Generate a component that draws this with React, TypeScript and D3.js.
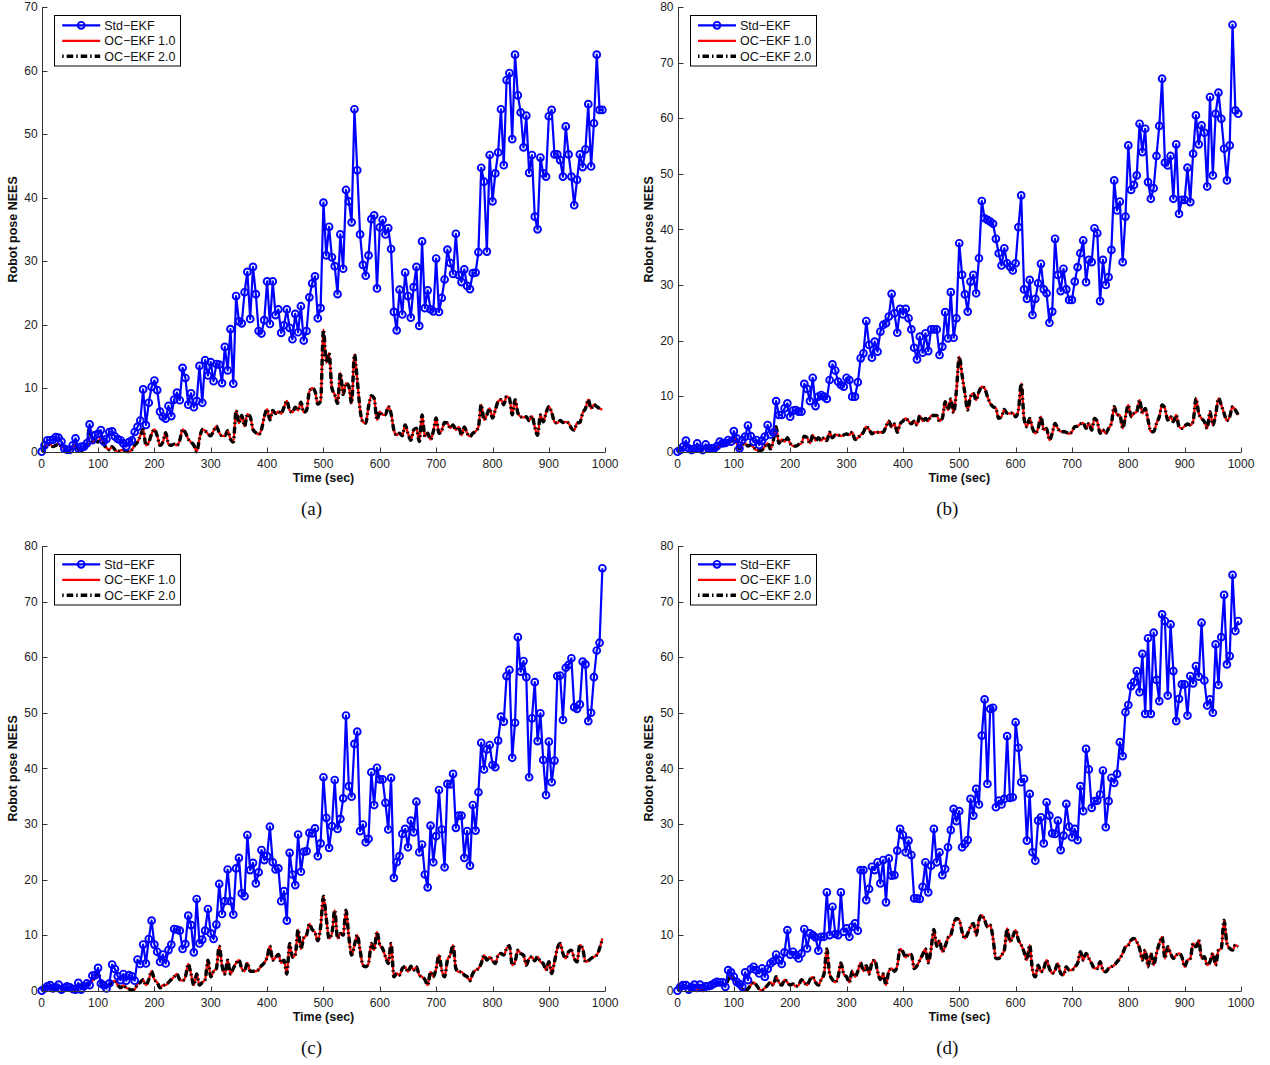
import * as d3 from "d3";

// sample spacing of every series (seconds)
const STEP = 5;
const X_TICKS = d3.range(0, 1001, 100);
const LABELS = ["Std\u2212EKF", "OC\u2212EKF 1.0", "OC\u2212EKF 2.0"];

// ---- (a) ----
const stdA = [
  0, 1.0, 1.8, 1.8, 1.9, 2.3, 2.2, 1.6, 0.5, 0.3, 0.3, 1.0, 2.1, 0.5, 0.8, 0.8, 1.3, 4.3, 1.8, 2.6,
  2.8, 3.4, 1.6, 2.0, 3.1, 3.2, 2.4, 2.0, 1.8, 1.3, 0.8, 1.5, 1.8, 3.1, 3.9, 4.9, 9.8, 4.2, 7.7, 10.2,
  11.2, 9.7, 6.3, 5.5, 5.2, 7.2, 5.6, 8.2, 9.3, 8.1, 13.2, 11.6, 7.4, 9.2, 7.0, 8.0, 13.5, 7.7, 14.4, 12.0,
  14.1, 11.1, 13.8, 13.7, 10.8, 16.5, 12.8, 19.3, 10.7, 24.5, 20.5, 20.2, 25.1, 28.3, 20.9, 29.1, 24.8, 19.0, 18.6, 20.7,
  26.8, 20.1, 26.8, 21.5, 22.4, 18.7, 19.9, 22.4, 19.5, 17.7, 21.7, 18.8, 22.9, 17.5, 19.0, 24.3, 26.5, 27.6, 21.0, 22.6,
  39.2, 30.9, 35.4, 30.6, 29.2, 24.8, 34.2, 28.8, 41.2, 39.4, 36.1, 53.9, 44.3, 34.2, 29.4, 27.7, 30.9, 36.6, 37.2, 25.7,
  35.3, 36.5, 34.2, 35.2, 31.9, 22.0, 19.1, 25.5, 21.6, 28.2, 24.5, 21.1, 25.9, 29.1, 19.8, 33.1, 22.6, 25.4, 22.4, 22.1,
  30.4, 22.0, 24.2, 27.1, 31.8, 29.7, 28.0, 34.3, 27.8, 26.7, 28.7, 26.1, 25.6, 28.1, 28.2, 31.4, 44.7, 42.5, 31.5, 46.7,
  39.4, 43.8, 47.1, 53.9, 45.1, 58.5, 59.6, 49.2, 62.5, 56.1, 53.4, 47.9, 52.9, 43.9, 46.7, 37.0, 35.0, 46.3, 43.8, 43.3,
  52.8, 53.8, 46.8, 46.8, 45.9, 43.3, 51.2, 46.8, 43.3, 38.8, 42.8, 46.8, 44.8, 47.6, 54.7, 44.9, 51.7, 62.5, 53.8, 53.8,
];
const ocA = [
  0, 0.5, 1.0, 1.2, 0.8, 1.0, 1.2, 0.8, 0.5, 0.2, 0.2, 0.6, 1.0, 0.4, 0.0, 0.5, 1.0, 4.0, 1.5, 1.8,
  1.5, 2.2, 1.2, 0.6, 0.3, 0.8, 0.3, 0.0, 0.2, 0.3, 0.1, 0.0, 0.3, 1.0, 1.5, 2.5, 3.5, 1.0, 1.5, 2.8,
  3.5, 2.5, 1.0, 1.5, 3.0, 1.2, 1.0, 1.2, 1.0, 1.8, 3.5, 3.0, 2.0, 1.5, 1.0, 0.0, 2.0, 3.5, 3.3, 2.8,
  2.5, 3.3, 4.0, 3.0, 2.5, 2.5, 3.3, 2.0, 1.5, 6.5, 4.5, 5.7, 4.0, 5.9, 5.5, 3.5, 3.0, 2.7, 3.5, 5.5,
  6.7, 5.0, 6.5, 6.0, 6.3, 6.0, 7.0, 8.0, 6.5, 6.2, 7.0, 6.5, 7.8, 6.2, 6.5, 9.5, 10.0, 9.5, 7.5, 8.0,
  19.2, 14.0, 15.5, 10.0, 9.0, 7.6, 12.4, 9.0, 10.8, 10.3, 7.6, 15.3, 11.3, 6.6, 4.7, 4.5, 7.1, 8.8, 8.4, 5.0,
  6.3, 5.8, 5.8, 7.1, 6.0, 3.4, 2.6, 2.9, 2.5, 4.2, 2.9, 1.8, 3.4, 3.7, 1.6, 5.8, 2.4, 2.9, 1.9, 3.2,
  5.3, 2.9, 3.4, 4.6, 4.5, 3.7, 4.2, 3.4, 3.9, 2.6, 3.9, 2.9, 2.4, 2.9, 3.2, 3.9, 7.4, 5.0, 5.8, 6.8,
  5.3, 6.6, 7.9, 8.2, 7.4, 8.7, 8.4, 5.8, 8.2, 6.1, 5.5, 5.4, 5.5, 4.9, 5.6, 3.9, 2.6, 5.8, 4.7, 6.1,
  7.1, 6.2, 4.7, 4.5, 4.9, 4.6, 4.7, 4.5, 3.7, 3.4, 4.5, 4.6, 6.1, 6.8, 8.2, 6.8, 7.4, 7.1, 6.8, 6.6,
];

// ---- (b) ----
const stdB = [
  0, 0.3, 0.9, 2.0, 0.6, 0.3, 0.5, 1.5, 0.5, 0.3, 1.3, 0.6, 0.6, 0.6, 1.0, 1.8, 1.5, 1.6, 2.1, 1.8,
  3.7, 2.4, 0.6, 2.1, 2.7, 4.7, 2.8, 1.8, 2.1, 1.2, 2.0, 2.7, 4.8, 3.1, 3.5, 9.1, 6.6, 6.6, 7.8, 8.7,
  6.3, 7.4, 7.5, 7.2, 7.2, 12.2, 11.3, 9.1, 13.3, 8.2, 9.9, 10.2, 9.9, 9.5, 12.9, 15.7, 14.6, 12.6, 12.0, 11.7,
  13.3, 12.9, 9.9, 9.9, 12.5, 16.8, 17.7, 23.5, 19.2, 16.9, 19.8, 18.0, 21.6, 22.8, 23.1, 24.3, 28.4, 24.9, 21.4, 25.7,
  24.7, 25.7, 24.0, 22.0, 18.7, 16.6, 20.7, 17.8, 21.3, 18.1, 22.0, 22.0, 22.0, 17.4, 18.9, 25.1, 20.4, 28.7, 20.5, 24.0,
  37.5, 31.8, 28.3, 25.2, 30.6, 31.8, 28.5, 34.8, 45.1, 42.0, 41.7, 41.4, 41.0, 38.3, 35.7, 33.5, 36.6, 33.9, 33.3, 32.6,
  33.9, 40.4, 46.1, 29.2, 27.5, 30.9, 24.6, 27.5, 30.3, 33.8, 29.2, 28.5, 23.2, 25.2, 38.3, 31.8, 28.9, 32.9, 29.2, 27.3,
  27.3, 30.6, 33.2, 35.7, 38.0, 30.5, 34.5, 34.1, 40.2, 39.3, 27.1, 34.5, 30.0, 31.4, 36.3, 48.8, 43.4, 45.0, 34.1, 42.3,
  55.1, 47.1, 48.0, 49.7, 59.0, 53.9, 58.1, 48.5, 45.5, 47.4, 53.2, 58.6, 67.1, 52.0, 51.5, 53.2, 45.5, 55.3, 42.8, 45.3,
  45.3, 51.1, 44.9, 53.6, 60.5, 55.3, 58.7, 57.4, 47.7, 63.8, 49.7, 60.8, 64.6, 59.9, 54.5, 48.8, 55.1, 76.8, 61.4, 60.8,
];
const ocB = [
  0, 0.3, 0.8, 1.5, 1.0, 0.7, 0.3, 1.0, 0.5, 0.3, 1.0, 0.5, 0.5, 0.3, 0.5, 1.2, 1.5, 1.2, 1.5, 1.8,
  2.5, 1.5, 0.5, 1.2, 1.5, 1.0, 1.2, 0.8, 0.3, 0.2, 0.3, 1.0, 1.5, 0.5, 2.0, 4.5, 1.5, 2.2, 1.8, 2.5,
  1.5, 1.0, 1.0, 1.3, 1.5, 2.8, 2.5, 1.5, 3.0, 2.0, 2.5, 2.0, 2.5, 2.0, 3.5, 2.5, 3.0, 3.0, 2.8, 3.0,
  3.2, 3.0, 3.5, 2.2, 2.5, 3.0, 3.5, 4.5, 4.0, 3.2, 3.5, 3.5, 3.5, 3.5, 4.5, 5.5, 4.5, 5.0, 3.5, 5.0,
  5.5, 6.0, 5.5, 5.0, 5.5, 4.8, 6.5, 5.5, 6.0, 5.5, 6.5, 6.5, 6.5, 5.5, 6.0, 9.0, 7.5, 9.5, 7.0, 11.0,
  17.1, 13.8, 10.5, 7.5, 9.9, 10.5, 9.3, 10.8, 11.7, 11.4, 9.9, 8.7, 8.1, 7.8, 6.0, 6.3, 7.6, 6.9, 6.9, 7.0,
  6.3, 7.5, 12.3, 6.0, 4.5, 6.0, 4.2, 3.3, 4.2, 6.3, 3.9, 4.2, 2.1, 3.3, 5.1, 4.2, 3.6, 3.6, 3.5, 3.2,
  3.6, 4.5, 4.6, 5.0, 5.2, 4.2, 5.1, 3.9, 6.0, 5.4, 3.3, 3.9, 3.3, 4.2, 5.1, 8.1, 6.6, 6.6, 4.2, 6.3,
  8.4, 6.3, 6.9, 7.2, 9.3, 6.9, 7.8, 5.7, 3.6, 3.6, 5.1, 6.3, 8.4, 7.8, 5.7, 6.3, 5.4, 6.6, 4.5, 4.2,
  4.6, 5.0, 4.8, 5.4, 9.6, 6.9, 6.0, 5.4, 4.2, 7.2, 4.8, 6.6, 9.6, 8.4, 6.9, 5.6, 6.3, 8.1, 7.5, 6.6,
];

// ---- (c) ----
const stdC = [
  0, 0.4, 0.8, 1.0, 0.4, 0.6, 1.1, 0.2, 0.5, 0.8, 0.6, 0.3, 0.2, 1.4, 0.2, 0.8, 1.3, 1.0, 2.7, 2.8,
  4.1, 1.3, 1.0, 0.4, 1.3, 4.7, 3.9, 2.6, 1.9, 3.0, 1.8, 2.8, 2.6, 1.8, 5.6, 4.8, 8.3, 4.9, 9.3, 12.6,
  8.3, 7.0, 5.2, 6.5, 4.9, 7.3, 8.3, 11.1, 11.0, 10.8, 7.5, 8.4, 13.5, 11.8, 6.9, 16.5, 8.5, 9.2, 10.8, 14.7,
  10.3, 9.3, 11.9, 19.2, 13.8, 16.1, 21.8, 16.1, 13.7, 22.0, 23.9, 17.5, 17.0, 28.0, 21.7, 23.0, 19.3, 21.3, 25.3, 23.5,
  24.2, 29.5, 23.1, 21.8, 22.0, 16.1, 17.9, 12.6, 24.8, 20.9, 19.0, 28.1, 21.4, 25.0, 25.1, 28.4, 28.3, 29.2, 24.2, 26.5,
  38.4, 31.1, 25.7, 29.6, 37.9, 29.1, 30.9, 34.6, 49.5, 36.8, 34.9, 44.4, 46.6, 28.7, 29.9, 26.7, 27.3, 39.3, 33.4, 40.1,
  38.0, 38.0, 33.8, 29.0, 38.3, 20.3, 23.1, 24.2, 28.2, 29.1, 25.8, 30.6, 28.5, 34.0, 24.9, 26.3, 20.9, 18.6, 29.7, 23.1,
  27.8, 36.1, 29.0, 22.2, 37.2, 37.1, 39.0, 29.3, 31.5, 31.5, 23.9, 28.7, 22.5, 33.4, 28.8, 35.7, 44.6, 39.8, 43.4, 44.2,
  40.6, 40.2, 45.0, 49.3, 48.4, 56.6, 57.7, 41.9, 48.2, 63.6, 57.4, 59.3, 56.4, 38.4, 49.0, 55.5, 44.9, 49.9, 41.5, 35.2,
  44.8, 37.5, 41.4, 56.6, 56.7, 48.7, 58.1, 58.6, 59.8, 51.0, 50.7, 51.5, 59.2, 58.7, 48.5, 50.0, 56.4, 61.2, 62.6, 76.0,
];
const ocC = [
  0, 0.5, 0.8, 1.0, 0.3, 0.5, 0.7, 0.5, 0.3, 0.5, 0.6, 0.3, 0.2, 0.8, 1.0, 0.3, 1.2, 1.5, 1.8, 2.5,
  3.5, 1.5, 0.5, 0.8, 1.0, 1.5, 1.8, 1.0, 0.5, 1.0, 0.5, 0.3, 0.1, 0.2, 1.2, 1.5, 2.0, 1.0, 2.0, 3.5,
  2.0, 1.5, 0.5, 1.0, 1.0, 1.5, 2.0, 2.5, 3.0, 2.0, 1.8, 2.5, 4.8, 3.0, 1.0, 3.0, 1.0, 1.5, 2.0, 5.5,
  2.5, 3.5, 4.0, 8.0, 4.5, 3.0, 5.5, 3.0, 4.0, 5.0, 5.5, 4.0, 3.5, 5.0, 3.5, 3.5, 3.5, 3.8, 4.5, 5.0,
  6.0, 8.0, 5.5, 6.0, 6.5, 5.0, 5.5, 3.0, 8.5, 6.0, 6.5, 11.0, 7.5, 9.5, 10.0, 12.0, 11.0, 10.5, 9.0, 11.5,
  17.0, 13.0, 9.4, 10.3, 14.5, 9.4, 10.3, 10.0, 14.5, 9.7, 6.4, 8.2, 10.0, 7.3, 4.6, 4.3, 4.9, 8.5, 7.3, 10.6,
  8.2, 7.6, 6.1, 4.9, 8.5, 2.5, 3.1, 2.8, 4.0, 4.3, 3.4, 4.4, 3.7, 4.3, 2.8, 2.5, 2.0, 1.0, 3.4, 2.5,
  4.0, 6.4, 3.7, 2.5, 5.5, 6.4, 8.2, 4.0, 3.4, 3.4, 2.8, 2.5, 1.8, 3.1, 3.7, 4.0, 4.9, 6.4, 5.5, 6.1,
  5.4, 4.9, 6.4, 6.7, 6.4, 7.6, 8.1, 4.6, 5.2, 7.3, 6.7, 6.4, 4.6, 5.8, 6.1, 5.4, 6.1, 5.2, 4.9, 3.7,
  5.2, 3.1, 5.2, 7.6, 8.5, 6.7, 5.8, 7.0, 7.3, 5.8, 5.2, 8.2, 7.6, 5.2, 5.4, 5.8, 6.1, 6.4, 7.6, 9.4,
];

// ---- (d) ----
const stdD = [
  0, 0.7, 1.0, 1.0, 0.2, 0.6, 1.1, 0.5, 1.1, 0.5, 0.8, 0.8, 1.0, 1.3, 1.6, 1.5, 1.5, 0.7, 3.7, 3.3,
  2.5, 1.6, 1.2, 0.7, 3.3, 1.9, 3.9, 4.3, 3.7, 3.1, 4.0, 2.5, 3.9, 4.9, 5.3, 6.5, 5.5, 4.8, 6.9, 10.9,
  6.5, 7.0, 6.4, 5.8, 6.7, 11.1, 7.6, 10.3, 10.0, 9.6, 7.2, 9.7, 9.7, 17.7, 10.0, 15.1, 10.2, 10.0, 17.7, 10.6,
  11.2, 9.7, 11.5, 12.1, 10.8, 21.7, 21.7, 16.3, 18.3, 22.3, 21.7, 23.1, 19.3, 23.5, 15.9, 23.8, 20.7, 20.8, 25.2, 29.1,
  28.0, 24.9, 27.0, 24.4, 16.6, 16.6, 16.5, 18.7, 23.1, 17.7, 22.5, 29.1, 23.1, 24.9, 20.8, 21.9, 25.8, 28.9, 32.7, 30.5,
  32.3, 25.8, 26.4, 27.1, 34.5, 31.5, 36.3, 33.5, 45.9, 52.4, 37.2, 50.7, 50.9, 33.0, 34.2, 33.5, 34.5, 45.8, 34.7, 34.8,
  48.3, 43.7, 37.5, 38.1, 27.0, 35.4, 24.9, 23.4, 30.6, 31.2, 26.5, 33.9, 31.5, 28.3, 28.2, 30.6, 25.3, 27.9, 33.6, 29.5,
  27.6, 29.1, 27.1, 36.8, 32.3, 43.5, 39.8, 32.9, 34.1, 34.2, 35.3, 39.6, 29.4, 34.1, 38.3, 37.4, 39.0, 44.7, 42.2, 50.1,
  51.4, 54.8, 55.5, 57.5, 53.7, 60.6, 49.8, 63.4, 49.8, 64.4, 55.9, 52.1, 67.7, 66.5, 53.1, 65.9, 57.5, 48.5, 52.5, 55.1,
  55.1, 49.5, 56.6, 55.3, 58.4, 56.5, 66.2, 55.8, 51.3, 52.4, 50.0, 62.3, 55.0, 63.6, 71.2, 58.7, 60.2, 74.8, 64.7, 66.5,
];
const ocD = [
  0, 0.3, 0.5, 0.8, 0.5, 0.2, 0.5, 0.3, 0.5, 0.1, 0.3, 0.5, 0.5, 0.8, 1.0, 1.2, 1.0, 1.0, 2.0, 2.5,
  2.0, 1.5, 0.8, 0.3, 0.0, 0.3, 1.0, 1.5, 1.0, 0.3, 0.1, 0.5, 1.0, 1.5, 1.0, 2.5, 1.5, 1.0, 2.0, 1.5,
  1.0, 1.2, 0.8, 1.0, 2.0, 1.5, 1.0, 2.0, 2.5, 1.5, 1.0, 2.0, 3.0, 7.5, 3.0, 2.0, 1.5, 2.5, 5.0, 3.0,
  2.5, 1.5, 3.5, 2.5, 3.5, 5.0, 3.5, 4.5, 3.0, 5.0, 5.5, 3.5, 2.0, 3.0, 1.0, 3.5, 4.0, 3.5, 4.5, 7.5,
  7.0, 6.0, 6.5, 6.5, 4.0, 4.5, 5.5, 6.5, 7.5, 5.0, 7.5, 11.0, 8.0, 9.0, 7.0, 8.0, 9.5, 10.0, 12.0, 13.0,
  12.7, 10.6, 9.4, 10.3, 11.5, 12.1, 10.0, 12.7, 13.6, 12.7, 11.5, 11.8, 9.4, 5.8, 5.8, 6.4, 7.3, 11.2, 8.8, 9.7,
  10.9, 9.1, 8.2, 7.0, 5.5, 8.2, 3.7, 2.5, 4.6, 3.4, 4.0, 5.5, 4.0, 3.1, 3.7, 4.9, 3.1, 2.8, 4.3, 3.7,
  3.7, 4.3, 4.9, 7.0, 5.5, 6.7, 5.8, 4.9, 4.0, 4.0, 5.2, 3.7, 3.4, 4.0, 4.3, 4.6, 5.2, 5.8, 6.7, 7.9,
  8.2, 9.1, 9.4, 8.8, 7.6, 5.5, 7.3, 4.3, 6.7, 4.6, 6.7, 8.5, 9.7, 5.8, 7.9, 6.7, 5.8, 6.4, 6.7, 6.1,
  4.3, 5.5, 5.8, 8.5, 7.9, 9.1, 5.8, 6.1, 4.6, 5.2, 6.7, 4.6, 7.3, 7.6, 12.7, 8.5, 7.6, 7.3, 8.2, 7.9,
];

const PLOT_W = 563.5;
const PLOT_H = 444.7;
const FONT = "'Liberation Sans', Arial, Helvetica, sans-serif";
const BLUE = "#0000ff";
const RED = "#ff0000";
const DASHDOT = "6.5,3,1.5,3";

type PanelProps = {
  x0: number;
  y0: number;
  yMax: number;
  std: number[];
  oc1: number[];
  oc2: number[];
  tag: string;
};

function Panel({ x0, y0, yMax, std, oc1, oc2, tag }: PanelProps) {
  const x = d3.scaleLinear().domain([0, 1000]).range([x0, x0 + PLOT_W]);
  const y = d3.scaleLinear().domain([0, yMax]).range([y0 + PLOT_H, y0]);
  const yTicks = d3.range(0, yMax + 1, 10);

  const toPts = (vals: number[]) => vals.map((v, i) => [i * STEP, v] as [number, number]);
  const straight = d3.line<[number, number]>().x(d => x(d[0])).y(d => y(d[1]));
  const smooth = d3.line<[number, number]>().x(d => x(d[0])).y(d => y(d[1])).curve(d3.curveMonotoneX);

  const stdPts = toPts(std);
  const ax = Math.round(x0) + 0.5;
  const ay = Math.round(y0 + PLOT_H) + 0.5;

  // legend placement
  const lx = x0 + 12;
  const ly = y0 + 8.3;
  const rows = [ly + 10, ly + 25.5, ly + 41];

  return (
    <g>
      {/* OC-EKF 1.0 underneath, OC-EKF 2.0 dash-dot on top */}
      <path d={smooth(toPts(oc1)) ?? ""} fill="none" stroke={RED} strokeWidth={2.3} />
      <path d={smooth(toPts(oc2)) ?? ""} fill="none" stroke="#000" strokeWidth={3.4} strokeDasharray={DASHDOT} />
      <path d={straight(stdPts) ?? ""} fill="none" stroke={BLUE} strokeWidth={2.2} strokeLinejoin="round" />
      {stdPts.map((d, i) => (
        <circle key={i} cx={x(d[0])} cy={y(d[1])} r={3.4} fill="none" stroke={BLUE} strokeWidth={1.9} />
      ))}

      {/* axes */}
      <g stroke="#333" strokeWidth={1} fill="none">
        <line x1={ax} x2={ax} y1={y0} y2={ay} />
        <line x1={ax} x2={x0 + PLOT_W} y1={ay} y2={ay} />
        {X_TICKS.map(t => (
          <line key={t} x1={Math.round(x(t)) + 0.5} x2={Math.round(x(t)) + 0.5} y1={ay} y2={ay - 5} />
        ))}
        {yTicks.map(t => (
          <line key={t} x1={ax} x2={ax + 5} y1={Math.round(y(t)) + 0.5} y2={Math.round(y(t)) + 0.5} />
        ))}
      </g>
      <g fontFamily={FONT} fontSize={12} fill="#222">
        {X_TICKS.map(t => (
          <text key={t} x={x(t)} y={ay + 15} textAnchor="middle">{t}</text>
        ))}
        {yTicks.map(t => (
          <text key={t} x={x0 - 4} y={y(t) + 4.3} textAnchor="end">{t}</text>
        ))}
      </g>
      <text x={x0 + PLOT_W / 2} y={ay + 29.5} textAnchor="middle" fontFamily={FONT}
        fontSize={12.5} fontWeight="bold" fill="#111">Time (sec)</text>
      <text transform={`translate(${x0 - 25},${y0 + PLOT_H / 2}) rotate(-90)`} textAnchor="middle"
        fontFamily={FONT} fontSize={12.5} fontWeight="bold" fill="#111">Robot pose NEES</text>
      <text x={x0 + PLOT_W / 2 - 12} y={ay + 62.5} textAnchor="middle"
        fontFamily="'Liberation Serif', 'Times New Roman', serif" fontSize={19} fill="#111">{tag}</text>

      {/* legend */}
      <rect x={Math.round(lx) + 0.5} y={Math.round(ly) + 0.5} width={126} height={50.5}
        fill="#fff" stroke="#000" strokeWidth={1} />
      <line x1={lx + 8.5} x2={lx + 46.5} y1={rows[0]} y2={rows[0]} stroke={BLUE} strokeWidth={2.2} />
      <circle cx={lx + 27.5} cy={rows[0]} r={3.4} fill="none" stroke={BLUE} strokeWidth={1.9} />
      <line x1={lx + 8.5} x2={lx + 46.5} y1={rows[1]} y2={rows[1]} stroke={RED} strokeWidth={2.3} />
      <line x1={lx + 8.5} x2={lx + 46.5} y1={rows[2]} y2={rows[2]} stroke="#000" strokeWidth={3.4}
        strokeDasharray="1.5,3,6.5,3" />
      {LABELS.map((l, i) => (
        <text key={l} x={lx + 50.5} y={rows[i] + 4.4} fontFamily={FONT} fontSize={12.5} fill="#111">{l}</text>
      ))}
    </g>
  );
}

export default function App() {
  return (
    <svg width={1270} height={1065} style={{ position: "absolute", left: 0, top: 0, background: "#fff" }}>
      <Panel x0={41.7} y0={7} yMax={70} std={stdA} oc1={ocA} oc2={ocA} tag="(a)" />
      <Panel x0={677.5} y0={7} yMax={80} std={stdB} oc1={ocB} oc2={ocB} tag="(b)" />
      <Panel x0={41.7} y0={546} yMax={80} std={stdC} oc1={ocC} oc2={ocC} tag="(c)" />
      <Panel x0={677.5} y0={546} yMax={80} std={stdD} oc1={ocD} oc2={ocD} tag="(d)" />
    </svg>
  );
}
